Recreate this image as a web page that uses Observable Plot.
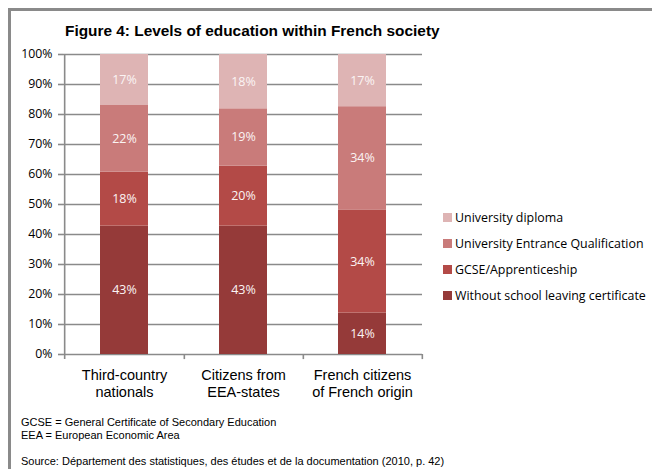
<!DOCTYPE html>
<html>
<head>
<meta charset="utf-8">
<script src="https://cdn.jsdelivr.net/npm/d3@7"></script>
<script src="https://cdn.jsdelivr.net/npm/@observablehq/plot@0.6"></script>
<style>
  html, body { margin: 0; padding: 0; background: #fff; }
  #wrap { position: relative; width: 652px; height: 469px; overflow: hidden; background: #fff; }
  #frame { position: absolute; left: 8px; top: 8px; width: 660px; height: 480px;
           border-top: 3px solid #8a8a8a; border-left: 3px solid #8a8a8a; box-sizing: border-box; }
  #title { position: absolute; left: 65px; top: 22px; font: bold 15.4px "Liberation Sans", Arial, sans-serif; color: #000; white-space: nowrap; }
  #chart { position: absolute; left: 0; top: 0; }
  #legend { position: absolute; left: 443px; top: 204px; font: 12.4px "Open Sans", sans-serif; color: #000; }
  #legend .row { display: flex; align-items: center; height: 26px; white-space: nowrap; }
  #legend .sw { width: 9px; height: 9px; margin-right: 3px; }
  #notes { position: absolute; left: 21px; top: 416px; font: 11px "Liberation Sans", Arial, sans-serif; color: #000; line-height: 13px; white-space: nowrap; }
</style>
</head>
<body>
<div id="wrap">
  <div id="frame"></div>
  <div id="title"></div>
  <div id="chart"></div>
  <div id="legend"></div>
  <div id="notes"></div>
</div>
<script>
// ---- data ----
const categories = ["Third-country nationals", "Citizens from EEA-states", "French citizens of French origin"];
const categoryLabels = ["Third-country\nnationals", "Citizens from\nEEA-states", "French citizens\nof French origin"];
const levels = ["Without school leaving certificate", "GCSE/Apprenticeship", "University Entrance Qualification", "University diploma"];
const withoutCertificate = [42.8, 42.8, 13.8];
const gcseApprenticeship = [18.0, 20.0, 34.4];
const entranceQualification = [22.2, 19.1, 34.4];
const universityDiploma = [17.0, 18.1, 17.4];
const yTicks = [0, 10, 20, 30, 40, 50, 60, 70, 80, 90, 100];
const colors = ["#953a39", "#b34a47", "#c97b7a", "#deb4b4"];
const titleText = "Figure 4: Levels of education within French society";
const notes = [
  "GCSE = General Certificate of Secondary Education",
  "EEA = European Economic Area",
  "",
  "Source: Département des statistiques, des études et de la documentation (2010,  p. 42)"
];

const series = [withoutCertificate, gcseApprenticeship, entranceQualification, universityDiploma];
const table = [];
categories.forEach((c, i) => {
  levels.forEach((l, j) => table.push({category: c, level: l, value: series[j][i]}));
});

// ---- layout ----
const W = 652, H = 410, mL = 63, mR = 230, mT = 54, mB = 56;
const step = (W - mL - mR) / categories.length;
const gray = "#8a8a8a";

const chart = Plot.plot({
  width: W, height: H,
  marginTop: mT, marginBottom: mB, marginLeft: mL, marginRight: mR,
  style: {background: "transparent", overflow: "visible"},
  x: {domain: categories, paddingInner: 0.6, paddingOuter: 0.3, axis: null, label: null},
  y: {domain: [0, 100], axis: null, label: null},
  color: {domain: levels, range: colors},
  marks: [
    Plot.ruleY(yTicks, {stroke: gray, strokeWidth: 1.6}),
    Plot.barY(table, {x: "category", y: "value", fill: "level"}),
    Plot.text(table, Plot.stackY({
      x: "category", y: "value", z: "level",
      text: d => Math.round(d.value) + "%",
      fill: "#fbf4f4", fontSize: 12.5, fontFamily: "Open Sans"
    })),
    Plot.ruleX([categories[0]], {x: d => d, dx: -step / 2, y1: -1.7, y2: 100, stroke: gray, strokeWidth: 1.6}),
    Plot.ruleX(categories, {x: d => d, dx: step / 2, y1: -1.7, y2: 0, stroke: gray, strokeWidth: 1.6}),
    Plot.axisY({
      ticks: yTicks, tickFormat: d => d + "%", tickSize: 5, tickPadding: 6, label: null,
      stroke: gray, strokeWidth: 1.6, fill: "#000", fontSize: 12.3, fontFamily: "Open Sans"
    }),
    Plot.axisX({
      tickSize: 0, tickPadding: 13, label: null,
      tickFormat: d => categoryLabels[categories.indexOf(d)],
      fill: "#000", fontSize: 14.5, fontFamily: "Liberation Sans", lineHeight: 1.17
    })
  ]
});
document.getElementById("chart").appendChild(chart);

document.getElementById("title").textContent = titleText;

const legend = document.getElementById("legend");
levels.slice().reverse().forEach(l => {
  const row = document.createElement("div");
  row.className = "row";
  const sw = document.createElement("span");
  sw.className = "sw";
  sw.style.background = chart.scale("color").apply(l);
  const tx = document.createElement("span");
  tx.textContent = l;
  row.appendChild(sw); row.appendChild(tx);
  legend.appendChild(row);
});

const notesEl = document.getElementById("notes");
notes.forEach(n => {
  const d = document.createElement("div");
  d.textContent = n || "\u00a0";
  notesEl.appendChild(d);
});
</script>
</body>
</html>
